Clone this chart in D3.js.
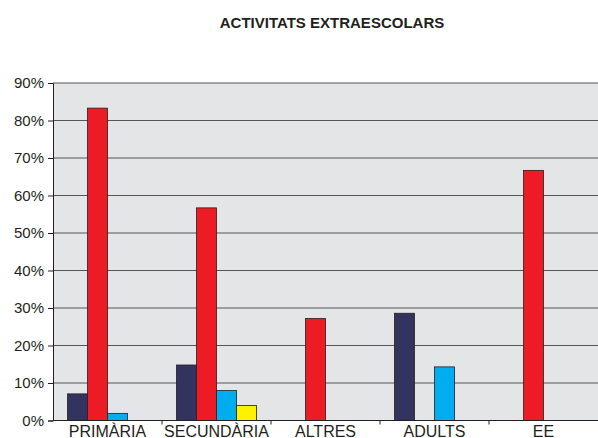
<!DOCTYPE html>
<html><head><meta charset="utf-8">
<script src="https://cdn.jsdelivr.net/npm/d3@7"></script>
<style>body{margin:0;background:#fff;} text{font-family:"Liberation Sans",Arial,sans-serif;fill:#231f20;}</style>
</head><body>
<svg id="c" width="598" height="438"></svg>
<script>
const title = "ACTIVITATS EXTRAESCOLARS";
const categories = ["PRIMÀRIA", "SECUNDÀRIA", "ALTRES", "ADULTS", "EE"];
const seriesNames = ["S1", "S2", "S3", "S4"];
const seriesColors = ["#32335f", "#ed1c24", "#00aeef", "#fff200"];
const s1 = [7.1, 14.8, null, 28.6, null];
const s2 = [83.3, 56.7, 27.2, null, 66.7];
const s3 = [1.9, 8.0, null, 14.3, null];
const s4 = [null, 4.0, null, null, null];
const seriesValues = [s1, s2, s3, s4];
const yTicks = [0, 10, 20, 30, 40, 50, 60, 70, 80, 90];

const svg = d3.select("#c");
const L = 53, R = 598, T = 83, B = 420.5;

const x0 = d3.scaleBand().domain(categories).range([L, R]).paddingInner(0).paddingOuter(0);
const x1 = d3.scaleBand().domain(seriesNames).range([0, x0.bandwidth()]).paddingInner(0).paddingOuter(0.725);
const y = d3.scaleLinear().domain([0, 90]).range([B, T]);

svg.append("rect").attr("x", L).attr("y", T).attr("width", R - L).attr("height", B - T).attr("fill", "#e4e5e7");

svg.append("g").selectAll("line").data(yTicks.filter(d => d > 0)).join("line")
  .attr("x1", L).attr("x2", R).attr("y1", d => y(d)).attr("y2", d => y(d))
  .attr("stroke", "#555").attr("stroke-width", 1);

const rows = [];
categories.forEach((c, i) => seriesNames.forEach((s, j) => {
  const v = seriesValues[j][i];
  if (v != null) rows.push({c, s, v, color: seriesColors[j]});
}));
svg.append("g").selectAll("rect").data(rows).join("rect")
  .attr("x", d => x0(d.c) + x1(d.s)).attr("width", x1.bandwidth())
  .attr("y", d => y(d.v)).attr("height", d => y(0) - y(d.v))
  .attr("fill", d => d.color).attr("stroke", "#231f20").attr("stroke-width", 0.8);

// y axis
const ya = svg.append("g").attr("transform", `translate(${L},0)`)
  .call(d3.axisLeft(y).tickValues(yTicks).tickFormat(d => d + "%").tickSize(5).tickPadding(4));
ya.select(".domain").attr("stroke", "#231f20");
ya.selectAll(".tick line").attr("stroke", "#231f20");
ya.selectAll("text").style("font-size", "15px").attr("fill", "#231f20");

// x axis
const xa = svg.append("g").attr("transform", `translate(0,${B})`);
xa.append("line").attr("x1", L).attr("x2", R).attr("stroke", "#231f20");
xa.selectAll("line.t").data(categories.slice(1)).join("line").attr("class", "t")
  .attr("x1", d => x0(d)).attr("x2", d => x0(d)).attr("y1", 0).attr("y2", 4).attr("stroke", "#231f20");
xa.selectAll("text").data(categories).join("text")
  .attr("x", d => x0(d) + x0.bandwidth() / 2).attr("y", 16)
  .attr("text-anchor", "middle").style("font-size", "16px").text(d => d);

svg.append("text").attr("x", 332).attr("y", 28).attr("text-anchor", "middle")
  .style("font-size", "15px").style("font-weight", "bold").text(title);
</script>
</body></html>
